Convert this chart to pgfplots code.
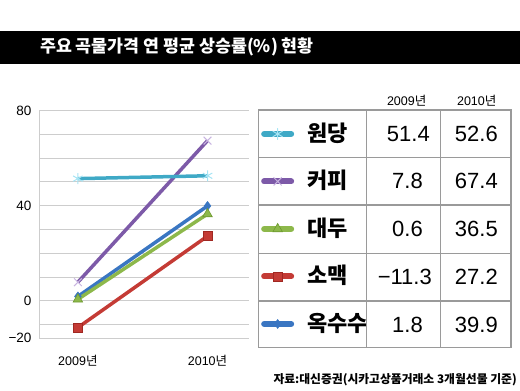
\documentclass[border=0pt]{standalone}
\usepackage{fontspec}
\setmainfont{Liberation Sans}
\newfontfamily\kr{Noto Sans CJK KR}
\usepackage{pgfplots}
\pgfplotsset{compat=1.18}
\definecolor{ccyan}{HTML}{3FA9C6}
\definecolor{ccyanl}{HTML}{A6E4F4}
\definecolor{cpurple}{HTML}{7D5AA8}
\definecolor{cpurplel}{HTML}{C8B4E0}
\definecolor{cgreen}{HTML}{8DB84B}
\definecolor{cgreend}{HTML}{6E9A30}
\definecolor{cred}{HTML}{C43B35}
\definecolor{credd}{HTML}{A02822}
\definecolor{cblue}{HTML}{3A76C2}
\definecolor{gridgray}{HTML}{CDCDCD}
\definecolor{tabgray}{HTML}{9A9A9A}
\begin{document}
\begin{tikzpicture}
\begin{scope}[x=1pt,y=1pt]
\path[use as bounding box] (0,0) rectangle (520,391);
\fill[black] (0,327) rectangle (520,360);
\node[anchor=west,text=white,inner sep=0pt,font=\kr\bfseries\fontsize{17.3}{17.3}\selectfont] at (40,344) {주요 곡물가격 연 평균 상승률(\%) 현황};
\end{scope}
\begin{axis}[at={(39pt,53pt)}, anchor=south west, scale only axis,
  width=210pt, height=227.3pt,
  xmin=-0.3, xmax=1.32, ymin=-15.7, ymax=80,
  axis x line*=bottom, axis y line*=left,
  axis line style={draw=gridgray, line width=0.9pt},
  xtick={0,1}, xticklabels={2009{\kr 년},2010{\kr 년}},
  ytick={-15.7,-10,0,10,20,30,40,50,60,70,80},
  yticklabels={−20,,0,,,,40,,,,80},
  ymajorgrids, grid style={draw=gridgray, line width=0.9pt},
  major tick length=0pt,
  xticklabel style={font=\fontsize{12.5}{12.5}\selectfont, yshift=-14pt},
  yticklabel style={font=\fontsize{13.5}{13.5}\selectfont, xshift=-4pt},
  /pgf/number format/assume math mode=true,
  clip=false,
  reverse legend,
  legend image code/.code={\draw[mark repeat=2,mark phase=2,#1,line width=6pt,line cap=round] plot coordinates {(2pt,0pt)(15.5pt,0pt)(29pt,0pt)};},
  legend style={at={(axis description cs:1.057,1.003)}, anchor=north west, draw=none, fill=none, row sep=0pt, column sep=13pt, inner sep=0pt, nodes={inner sep=0pt, text height=31pt, text depth=16.5pt}, font=\kr\bfseries\fontsize{22}{22}\selectfont},
  legend cell align=left,
]
\addplot[color=cblue, line width=3.5pt, mark=diamond*, mark size=4.5pt, mark options={fill=cblue, draw=cblue, line width=0.5pt}] coordinates {(0,1.8) (1,39.9)};
\addlegendentry{옥수수}
\addplot[color=cred, line width=3.5pt, mark=square*, mark size=4.5pt, mark options={fill=cred, draw=credd, line width=0.6pt}] coordinates {(0,-11.3) (1,27.2)};
\addlegendentry{소맥}
\addplot[color=cgreen, line width=3.5pt, mark=triangle*, mark size=5.5pt, mark options={fill=cgreen, draw=cgreend, line width=0.6pt}] coordinates {(0,0.6) (1,36.5)};
\addlegendentry{대두}
\addplot[color=cpurple, line width=3.5pt, mark=x, mark size=5.5pt, mark options={draw=cpurplel, line width=1pt}] coordinates {(0,7.8) (1,67.4)};
\addlegendentry{커피}
\addplot[color=ccyan, line width=3.5pt, mark=asterisk, mark size=5.5pt, mark options={draw=ccyanl, line width=1pt}] coordinates {(0,51.4) (1,52.6)};
\addlegendentry{원당}
\end{axis}
\begin{scope}[x=1pt,y=1pt]
\draw[tabgray, line width=1.2pt] (258.3,43.3) rectangle (511,281);
\foreach \yy in {233.7,186,137.7,90} \draw[tabgray, line width=1.2pt] (258.3,\yy) -- (511,\yy);
\foreach \xx in {366.7,440.7} \draw[tabgray, line width=1.2pt] (\xx,43.3) -- (\xx,281);
\node[font=\fontsize{12.5}{12.5}\selectfont, inner sep=0pt] at (406.7,290) {2009{\kr 년}};
\node[font=\fontsize{12.5}{12.5}\selectfont, inner sep=0pt] at (476.7,290) {2010{\kr 년}};
\begin{scope}[every node/.style={font=\fontsize{22}{22}\selectfont, inner sep=0pt}]
\node[anchor=base east] at (430,249.5) {51.4};
\node[anchor=base east] at (498,249.5) {52.6};
\node[anchor=base east] at (423,202) {7.8};
\node[anchor=base east] at (498,202) {67.4};
\node[anchor=base east] at (423,154) {0.6};
\node[anchor=base east] at (498,154) {36.5};
\node[anchor=base east] at (432,106) {−11.3};
\node[anchor=base east] at (498,106) {27.2};
\node[anchor=base east] at (423,58.7) {1.8};
\node[anchor=base east] at (498,58.7) {39.9};
\end{scope}
\node[anchor=east, inner sep=0pt, font=\kr\bfseries\fontsize{11.8}{11.8}\selectfont] at (517,11) {자료:대신증권(시카고상품거래소 3개월선물 기준)};
\end{scope}
\end{tikzpicture}
\end{document}
